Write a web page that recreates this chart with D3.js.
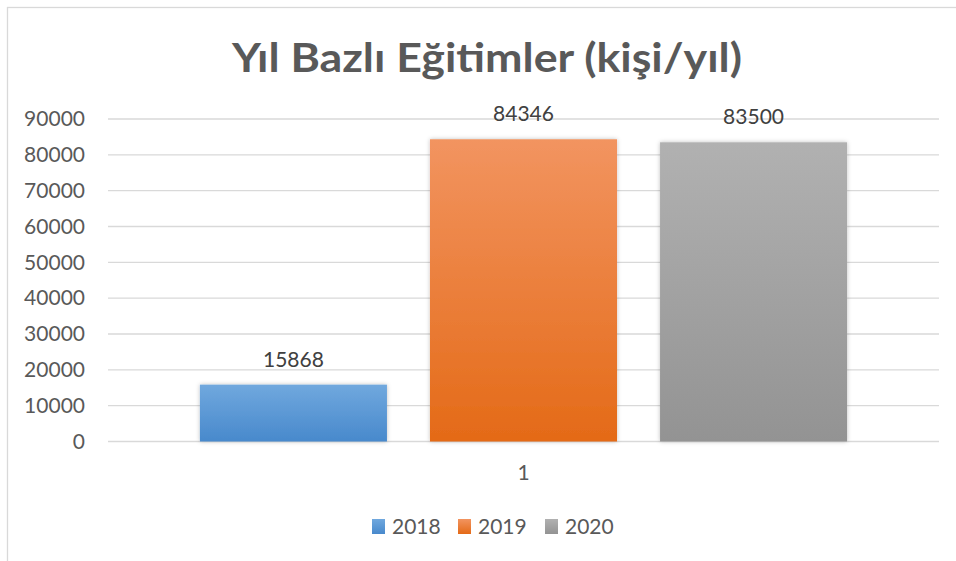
<!doctype html>
<html>
<head>
	<meta charset="utf-8">
	<script src="https://d3js.org/d3.v7.min.js"></script>
	<style>
		body { margin: 0; background: #fff; }
		text { font-family: Lato, "Open Sans", sans-serif; }
	</style>
</head>
<body>
	<div id="my_dataviz"></div>
	<script>
		// chart data
		var categories = ["1"];
		var series = ["2018", "2019", "2020"];
		var values = [15868, 84346, 83500];
		var yTicks = [0, 10000, 20000, 30000, 40000, 50000, 60000, 70000, 80000, 90000];
		var titleText = "Yıl Bazlı Eğitimler (kişi/yıl)";

		var W = 956, H = 561;
		var plot = {left: 108, right: 939, top: 119, bottom: 441.5};

		var colors = {
			"2018": ["#70a8de", "#4889cc"],
			"2019": ["#f29460", "#e46a17"],
			"2020": ["#b1b1b1", "#939393"]
		};

		var svg = d3.select("#my_dataviz")
		  .append("svg")
			.attr("width", W)
			.attr("height", H)
			.style("display", "block");

		var defs = svg.append("defs");
		series.forEach(function(s) {
			var g = defs.append("linearGradient")
				.attr("id", "grad" + s)
				.attr("x1", 0).attr("y1", 0).attr("x2", 0).attr("y2", 1);
			g.append("stop").attr("offset", "0%").attr("stop-color", colors[s][0]);
			g.append("stop").attr("offset", "100%").attr("stop-color", colors[s][1]);
		});
		var shadow = defs.append("filter").attr("id", "shadow")
			.attr("x", "-10%").attr("y", "-10%").attr("width", "120%").attr("height", "120%");
		shadow.append("feDropShadow")
			.attr("dx", 0).attr("dy", 0).attr("stdDeviation", 2)
			.attr("flood-color", "#000").attr("flood-opacity", 0.25);

		// chart frame (only top and left visible)
		svg.append("rect")
			.attr("x", 7.5).attr("y", 7.5)
			.attr("width", W + 20).attr("height", H + 20)
			.attr("fill", "none")
			.attr("stroke", "#d9d9d9")
			.attr("stroke-width", 1.3);

		// title
		svg.append("text")
			.attr("x", 487).attr("y", 72)
			.attr("text-anchor", "middle")
			.attr("fill", "#595959")
			.attr("textLength", 510)
			.attr("lengthAdjust", "spacingAndGlyphs")
			.style("font-weight", "bold")
			.style("font-size", "39.5px")
			.text(titleText);

		// scales
		var y = d3.scaleLinear()
			.domain([0, 90000])
			.range([plot.bottom, plot.top]);

		var x0 = d3.scaleBand()
			.domain(categories)
			.range([plot.left, plot.right])
			.paddingInner(0)
			.paddingOuter(0.142);

		var x1 = d3.scaleBand()
			.domain(series)
			.range([0, x0.bandwidth()])
			.paddingInner(0.187)
			.paddingOuter(0);

		// gridlines
		svg.append("g")
			.selectAll("line")
			.data(yTicks)
			.enter()
			.append("line")
			  .attr("x1", plot.left).attr("x2", plot.right)
			  .attr("y1", function(d) { return y(d); })
			  .attr("y2", function(d) { return y(d); })
			  .attr("stroke", "#d9d9d9")
			  .attr("stroke-width", 1.3);

		// y axis labels
		var yAxis = svg.append("g")
			.attr("transform", "translate(" + (plot.left - 23) + ",0)")
			.call(d3.axisLeft(y).tickValues(yTicks).tickSize(0).tickPadding(0).tickFormat(d3.format("d")));
		yAxis.select(".domain").remove();
		yAxis.selectAll("text")
			.attr("fill", "#595959")
			.style("font-size", "21px")
			.style("font-family", "Lato, sans-serif");

		// bars
		var bars = categories.map(function(c) {
			return series.map(function(s, i) { return {cat: c, key: s, value: values[i]}; });
		})[0];

		svg.append("g")
			.selectAll("rect")
			.data(bars)
			.enter()
			.append("rect")
			  .attr("x", function(d) { return x0(d.cat) + x1(d.key); })
			  .attr("y", function(d) { return y(d.value); })
			  .attr("width", x1.bandwidth())
			  .attr("height", function(d) { return y(0) - y(d.value); })
			  .attr("fill", function(d) { return "url(#grad" + d.key + ")"; })
			  .attr("filter", "url(#shadow)");

		// value labels
		svg.append("g")
			.selectAll("text")
			.data(bars)
			.enter()
			.append("text")
			  .attr("x", function(d) { return x0(d.cat) + x1(d.key) + x1.bandwidth() / 2; })
			  .attr("y", function(d) { return y(d.value) - 18; })
			  .attr("text-anchor", "middle")
			  .attr("fill", "#404040")
			  .style("font-size", "21px")
			  .text(function(d) { return d.value; });

		// x category label
		svg.append("g")
			.selectAll("text")
			.data(categories)
			.enter()
			.append("text")
			  .attr("x", function(d) { return x0(d) + x0.bandwidth() / 2; })
			  .attr("y", 480)
			  .attr("text-anchor", "middle")
			  .attr("fill", "#595959")
			  .style("font-size", "21px")
			  .text(function(d) { return d; });

		// legend
		var legendX = [372, 458, 545];
		var legend = svg.append("g")
			.selectAll("g")
			.data(series)
			.enter()
			.append("g")
			  .attr("transform", function(d, i) { return "translate(" + legendX[i] + ",519)"; });
		legend.append("rect")
			.attr("width", 13).attr("height", 15)
			.attr("fill", function(d) { return "url(#grad" + d + ")"; });
		legend.append("text")
			.attr("x", 20).attr("y", 14.5)
			.attr("fill", "#595959")
			.style("font-size", "21px")
			.text(function(d) { return d; });
	</script>
</body>
</html>
